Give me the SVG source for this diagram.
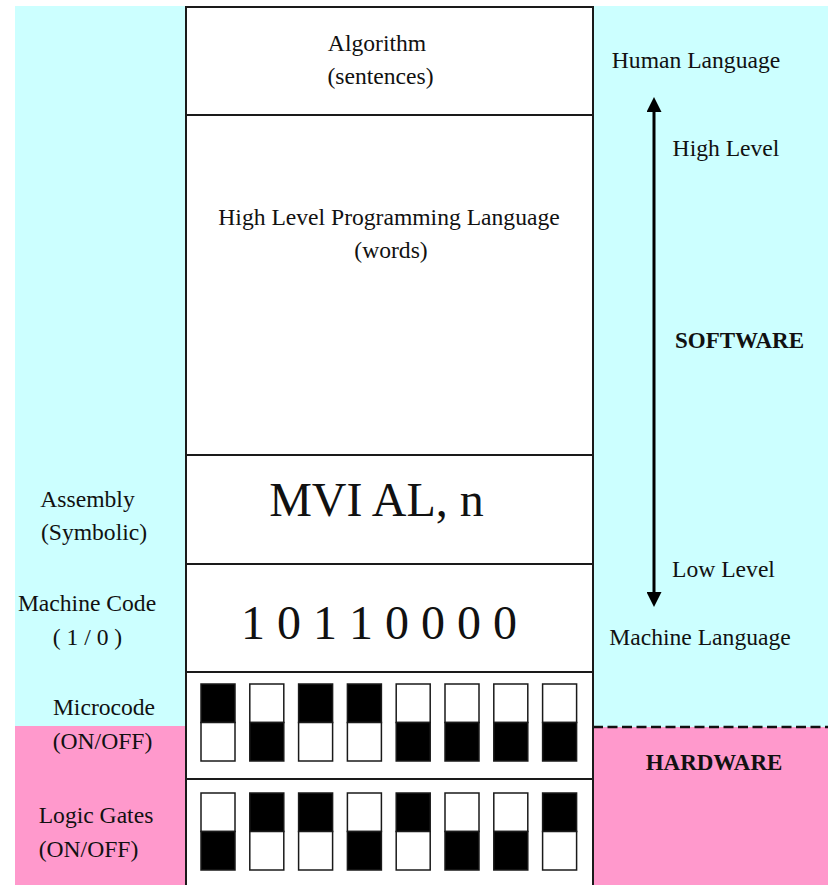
<svg xmlns="http://www.w3.org/2000/svg" width="828" height="885" viewBox="0 0 828 885">
<style>
text{font-family:"Liberation Serif","Times New Roman",serif;font-size:23.6px;fill:#111;text-anchor:middle}
.big{font-size:48px}
.bold{font-weight:bold;font-size:23px}
.box{fill:#fff;stroke:#1a1a1a;stroke-width:2}
.sep{stroke:#1a1a1a;stroke-width:2}
.sw{stroke:#1a1a1a;stroke-width:1.5}
.on{fill:#000}
.off{fill:#fff}
</style>
<defs>
<marker id="ah" viewBox="0 0 15 15" refX="0" refY="7.5" markerWidth="15" markerHeight="15" markerUnits="userSpaceOnUse" orient="auto-start-reverse">
<path d="M0,0 L15,7.5 L0,15 Z" fill="#000"/>
</marker>
<g id="swTop"><rect class="sw on" x="0" y="0" width="34" height="38.5"/><rect class="sw off" x="0" y="38.5" width="34" height="38.5"/></g>
<g id="swBot"><rect class="sw off" x="0" y="0" width="34" height="38.5"/><rect class="sw on" x="0" y="38.5" width="34" height="38.5"/></g>
</defs>
<g id="background">
<rect x="15" y="6" width="813" height="879" fill="#CCFFFF"/>
<rect x="15" y="726" width="171" height="159" fill="#FF99CC"/>
<rect x="593" y="727" width="235" height="158" fill="#FF99CC"/>
<line x1="593" y1="727" x2="828" y2="727" stroke="#111" stroke-width="2.5" stroke-dasharray="10 4.5"/>
</g>
<g id="column">
<rect class="box" x="186" y="7" width="407" height="880"/>
<line class="sep" x1="186" y1="115" x2="593" y2="115"/>
<line class="sep" x1="186" y1="455" x2="593" y2="455"/>
<line class="sep" x1="186" y1="564" x2="593" y2="564"/>
<line class="sep" x1="186" y1="672" x2="593" y2="672"/>
<line class="sep" x1="186" y1="779" x2="593" y2="779"/>
</g>
<g id="algorithm">
<text x="377" y="51">Algorithm</text>
<text x="380.5" y="84">(sentences)</text>
</g>
<g id="high-level-language">
<text x="389" y="225">High Level Programming Language</text>
<text x="391" y="258">(words)</text>
</g>
<g id="assembly">
<text class="big" x="376.5" y="516">MVI AL, n</text>
<text x="87.5" y="507">Assembly</text>
<text x="94" y="540">(Symbolic)</text>
</g>
<g id="machine-code">
<text class="big" x="379" y="639">1 0 1 1 0 0 0 0</text>
<text x="87" y="611">Machine Code</text>
<text x="87.5" y="645">( 1 / 0 )</text>
</g>
<g id="microcode">
<use href="#swTop" x="201" y="684"/>
<use href="#swBot" x="249.8" y="684"/>
<use href="#swTop" x="298.6" y="684"/>
<use href="#swTop" x="347.4" y="684"/>
<use href="#swBot" x="396.2" y="684"/>
<use href="#swBot" x="445" y="684"/>
<use href="#swBot" x="493.8" y="684"/>
<use href="#swBot" x="542.6" y="684"/>
<text x="104" y="715">Microcode</text>
<text x="102.5" y="749">(ON/OFF)</text>
</g>
<g id="logic-gates">
<use href="#swBot" x="201" y="793"/>
<use href="#swTop" x="249.8" y="793"/>
<use href="#swTop" x="298.6" y="793"/>
<use href="#swBot" x="347.4" y="793"/>
<use href="#swTop" x="396.2" y="793"/>
<use href="#swBot" x="445" y="793"/>
<use href="#swBot" x="493.8" y="793"/>
<use href="#swTop" x="542.6" y="793"/>
<text x="96" y="823">Logic Gates</text>
<text x="88.5" y="857">(ON/OFF)</text>
</g>
<g id="connectors">
<line x1="654" y1="112" x2="654" y2="592" stroke="#000" stroke-width="3" marker-start="url(#ah)" marker-end="url(#ah)"/>
</g>
<g id="right-labels">
<text x="696" y="68">Human Language</text>
<text x="726" y="156">High Level</text>
<text class="bold" x="739.5" y="348">SOFTWARE</text>
<text x="723.5" y="577">Low Level</text>
<text x="700" y="645">Machine Language</text>
<text class="bold" x="714" y="770">HARDWARE</text>
</g>
</svg>
